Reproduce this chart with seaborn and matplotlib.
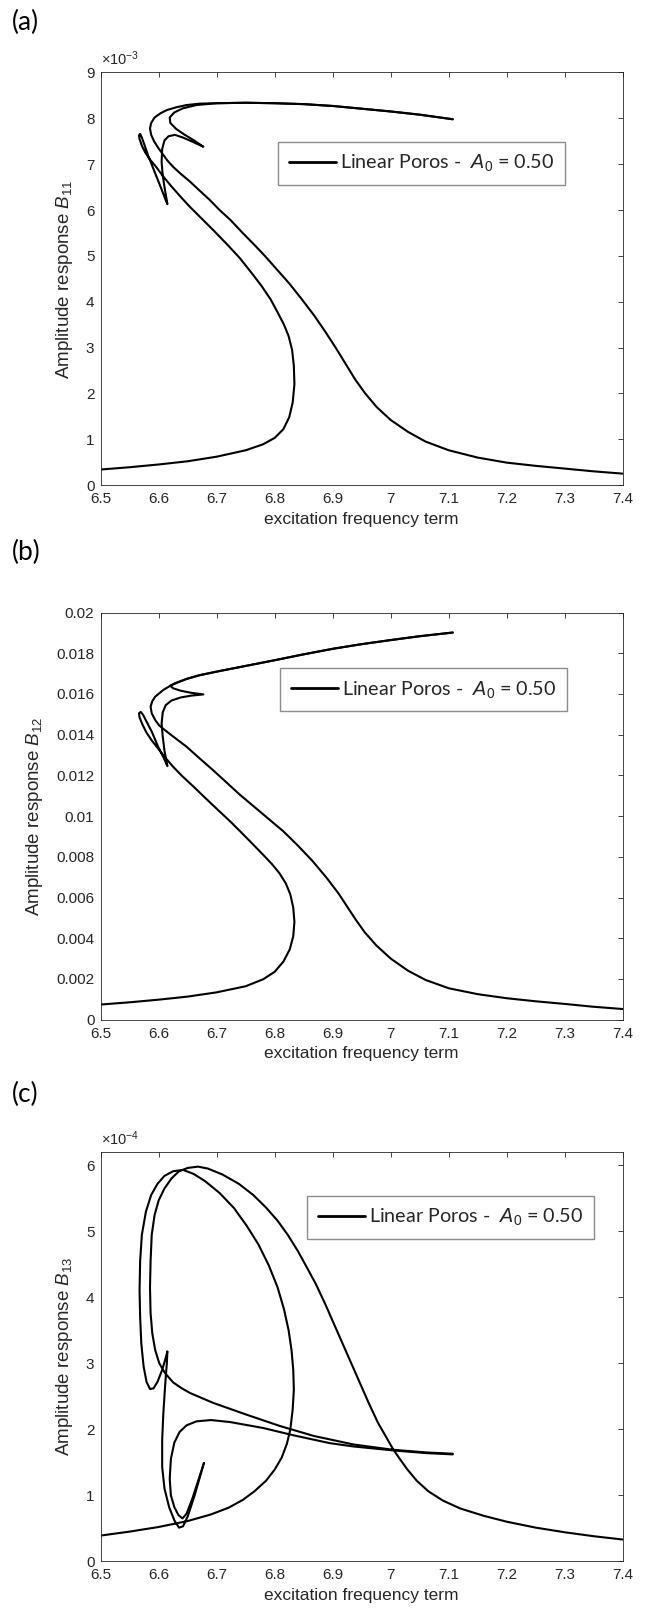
import numpy as np
import pandas as pd
import matplotlib
matplotlib.use("Agg")
import matplotlib.pyplot as plt
import seaborn as sns
from matplotlib.lines import Line2D

# ---------------- data ----------------
X_TICKS = [6.5, 6.6, 6.7, 6.8, 6.9, 7.0, 7.1, 7.2, 7.3, 7.4]
X_TICKLABELS = ["6.5", "6.6", "6.7", "6.8", "6.9", "7", "7.1", "7.2", "7.3", "7.4"]
LEGEND_LABEL = "Linear Poros -  $A_0$ = 0.50"

# panel (a): values in units of 1e-3
A1_X = [6.50, 6.55, 6.60, 6.65, 6.70, 6.75, 6.78, 6.80, 6.815, 6.825, 6.831, 6.834, 6.833, 6.830,
        6.824, 6.816, 6.805, 6.793, 6.777, 6.760, 6.740, 6.718, 6.695, 6.672, 6.653, 6.637, 6.621,
        6.608, 6.595, 6.585, 6.577, 6.571, 6.567, 6.566, 6.568, 6.571, 6.576, 6.582, 6.594, 6.605,
        6.612, 6.615, 6.613, 6.610, 6.607, 6.605, 6.606, 6.610, 6.617, 6.628, 6.642, 6.660, 6.677,
        6.662, 6.645, 6.630, 6.620, 6.619, 6.627, 6.642, 6.665, 6.70, 6.75, 6.80, 6.85, 6.90, 6.95,
        7.00, 7.05, 7.107]
A1_Y = [0.34, 0.39, 0.45, 0.52, 0.62, 0.76, 0.89, 1.03, 1.22, 1.48, 1.80, 2.20, 2.60, 2.95,
        3.25, 3.50, 3.77, 4.05, 4.35, 4.63, 4.95, 5.25, 5.55, 5.84, 6.08, 6.30, 6.53,
        6.73, 6.95, 7.10, 7.25, 7.40, 7.55, 7.63, 7.66, 7.58, 7.40, 7.18, 6.80, 6.45,
        6.22, 6.13, 6.28, 6.50, 6.75, 7.05, 7.33, 7.52, 7.61, 7.64, 7.58, 7.48, 7.38,
        7.51, 7.64, 7.77, 7.90, 8.02, 8.13, 8.22, 8.29, 8.33, 8.34, 8.33, 8.31, 8.27, 8.21,
        8.15, 8.08, 7.98]
A2_X = [7.40, 7.35, 7.30, 7.25, 7.20, 7.15, 7.10, 7.06, 7.03, 7.00, 6.976, 6.956, 6.939, 6.922,
        6.905, 6.887, 6.868, 6.847, 6.825, 6.804, 6.783, 6.765, 6.744, 6.724, 6.705, 6.688, 6.670,
        6.654, 6.638, 6.625, 6.615, 6.607, 6.599, 6.592, 6.587, 6.585, 6.587, 6.593, 6.603, 6.614,
        6.63, 6.648, 6.67, 6.70, 6.75, 6.80, 6.85, 6.90, 6.95, 7.00, 7.05, 7.107]
A2_Y = [0.25, 0.30, 0.36, 0.42, 0.49, 0.60, 0.76, 0.95, 1.16, 1.42, 1.70, 2.00, 2.30, 2.65,
        3.00, 3.35, 3.70, 4.05, 4.40, 4.70, 5.00, 5.24, 5.51, 5.78, 6.00, 6.22, 6.43,
        6.62, 6.79, 6.94, 7.08, 7.22, 7.36, 7.50, 7.64, 7.78, 7.90, 8.02, 8.11, 8.18,
        8.24, 8.29, 8.32, 8.33, 8.34, 8.33, 8.31, 8.27, 8.21, 8.15, 8.08, 7.98]

# panel (b): values in units of 1e-3
B1_X = [6.50, 6.55, 6.60, 6.65, 6.70, 6.75, 6.78, 6.80, 6.815, 6.826, 6.832, 6.834, 6.832, 6.827,
        6.819, 6.808, 6.795, 6.780, 6.763, 6.744, 6.724, 6.703, 6.680, 6.660, 6.640, 6.625, 6.612,
        6.600, 6.588, 6.579, 6.572, 6.567, 6.566, 6.569, 6.573, 6.578, 6.588, 6.599, 6.609, 6.613,
        6.615, 6.613, 6.610, 6.607, 6.605, 6.607, 6.612, 6.622, 6.638, 6.656, 6.677, 6.656, 6.638,
        6.625, 6.620, 6.628, 6.648, 6.67, 6.70, 6.75, 6.80, 6.85, 6.90, 6.95, 7.00, 7.05, 7.107]
B1_Y = [0.74, 0.85, 0.98, 1.13, 1.34, 1.64, 1.98, 2.35, 2.85, 3.45, 4.10, 4.80, 5.50, 6.15,
        6.70, 7.20, 7.65, 8.10, 8.60, 9.15, 9.72, 10.28, 10.90, 11.45, 11.98, 12.42, 12.85,
        13.28, 13.72, 14.10, 14.50, 14.85, 15.05, 15.12, 14.98, 14.70, 14.15, 13.41, 12.84, 12.58,
        12.46, 12.75, 13.20, 13.90, 14.55, 15.10, 15.45, 15.68, 15.83, 15.92, 15.98, 16.06, 16.16,
        16.28, 16.40, 16.53, 16.74, 16.92, 17.10, 17.38, 17.66, 17.95, 18.22, 18.45, 18.65, 18.84,
        19.02]
B2_X = [7.40, 7.35, 7.30, 7.25, 7.20, 7.15, 7.10, 7.06, 7.03, 7.00, 6.975, 6.955, 6.94, 6.925,
        6.91, 6.89, 6.865, 6.84, 6.815, 6.79, 6.765, 6.74, 6.717, 6.694, 6.670, 6.648, 6.630,
        6.614, 6.601, 6.594, 6.588, 6.586, 6.589, 6.594, 6.608, 6.622, 6.648, 6.67, 6.70, 6.75,
        6.80, 6.85, 6.90, 6.95, 7.00, 7.05, 7.107]
B2_Y = [0.52, 0.63, 0.77, 0.90, 1.05, 1.25, 1.54, 1.95, 2.40, 3.00, 3.65, 4.30, 4.90, 5.55,
        6.20, 6.95, 7.80, 8.55, 9.25, 9.85, 10.45, 11.05, 11.65, 12.25, 12.85, 13.41, 13.80,
        14.15, 14.45, 14.72, 15.05, 15.38, 15.65, 15.87, 16.20, 16.44, 16.74, 16.92, 17.10, 17.38,
        17.66, 17.95, 18.22, 18.45, 18.65, 18.84, 19.02]

# panel (c): values in units of 1e-4
C1_X = [6.50, 6.55, 6.60, 6.65, 6.69, 6.72, 6.745, 6.765, 6.785, 6.800, 6.812, 6.821, 6.827,
        6.831, 6.833, 6.832, 6.829, 6.824, 6.816, 6.805, 6.790, 6.772, 6.752, 6.730, 6.705, 6.680,
        6.660, 6.642, 6.625, 6.610, 6.598, 6.587, 6.578, 6.571, 6.568, 6.567, 6.568, 6.570, 6.574,
        6.579, 6.585, 6.591, 6.598, 6.606, 6.612, 6.615, 6.614, 6.611, 6.608, 6.606, 6.606, 6.610,
        6.618, 6.627, 6.635, 6.642, 6.650, 6.662, 6.678]
C1_Y = [0.39, 0.45, 0.52, 0.61, 0.71, 0.81, 0.93, 1.06, 1.22, 1.39, 1.57, 1.78, 2.00,
        2.30, 2.60, 2.90, 3.20, 3.50, 3.82, 4.15, 4.48, 4.80, 5.08, 5.35, 5.58, 5.76,
        5.87, 5.93, 5.91, 5.84, 5.72, 5.55, 5.30, 4.95, 4.55, 4.10, 3.70, 3.30, 2.95,
        2.72, 2.61, 2.62, 2.72, 2.90, 3.08, 3.18, 3.00, 2.65, 2.24, 1.84, 1.43, 1.10,
        0.82, 0.62, 0.51, 0.53, 0.68, 1.00, 1.49]
C2_X = [7.40, 7.35, 7.30, 7.25, 7.20, 7.16, 7.12, 7.09, 7.065, 7.045, 7.028, 7.015, 7.004,
        6.993, 6.978, 6.962, 6.947, 6.932, 6.917, 6.902, 6.887, 6.871, 6.855, 6.840, 6.823, 6.805,
        6.785, 6.763, 6.738, 6.710, 6.685, 6.668, 6.650, 6.635, 6.622, 6.610, 6.600, 6.593, 6.588,
        6.586, 6.585, 6.586, 6.589, 6.594, 6.601, 6.611, 6.625, 6.640, 6.654, 6.694, 6.752, 6.809,
        6.867, 6.936, 7.004, 7.06, 7.107]
C2_Y = [0.33, 0.38, 0.44, 0.51, 0.60, 0.69, 0.80, 0.92, 1.06, 1.22, 1.40, 1.56, 1.70,
        1.87, 2.10, 2.40, 2.70, 3.00, 3.30, 3.60, 3.90, 4.20, 4.46, 4.70, 4.94, 5.16,
        5.36, 5.55, 5.72, 5.86, 5.95, 5.98, 5.96, 5.91, 5.80, 5.65, 5.47, 5.25, 4.95,
        4.55, 4.15, 3.76, 3.45, 3.20, 3.00, 2.85, 2.71, 2.62, 2.55, 2.40, 2.22, 2.05,
        1.90, 1.77, 1.69, 1.65, 1.63]
C3_X = [7.107, 7.06, 7.004, 6.936, 6.895, 6.832, 6.780, 6.723, 6.690, 6.665, 6.648, 6.636, 6.627,
        6.621, 6.619, 6.621, 6.627, 6.634, 6.641, 6.648, 6.658, 6.678]
C3_Y = [1.62, 1.64, 1.68, 1.74, 1.79, 1.91, 2.02, 2.11, 2.14, 2.12, 2.06, 1.96, 1.80,
        1.55, 1.25, 1.00, 0.82, 0.70, 0.65, 0.72, 0.95, 1.49]

A_YTICKS = [0, 1, 2, 3, 4, 5, 6, 7, 8, 9]
A_YTICKLABELS = ["0", "1", "2", "3", "4", "5", "6", "7", "8", "9"]
B_YTICKS = [0, 2, 4, 6, 8, 10, 12, 14, 16, 18, 20]
B_YTICKLABELS = ["0", "0.002", "0.004", "0.006", "0.008", "0.01", "0.012", "0.014",
                 "0.016", "0.018", "0.02"]
C_YTICKS = [0, 1, 2, 3, 4, 5, 6]
C_YTICKLABELS = ["0", "1", "2", "3", "4", "5", "6"]

# ---------------- style ----------------
sns.set_style("white")
plt.rcParams["font.family"] = ["Liberation Sans", "DejaVu Sans"]
plt.rcParams["mathtext.fontset"] = "custom"
plt.rcParams["mathtext.rm"] = "Liberation Sans"
plt.rcParams["mathtext.it"] = "Liberation Sans:italic"
plt.rcParams["mathtext.bf"] = "Liberation Sans:bold"

AX_COLOR = "#262626"
W, H = 646, 1616
fig = plt.figure(figsize=(W / 100, H / 100), dpi=100)


def px_axes(left, top, right, bottom):
    return fig.add_axes([left / W, 1 - bottom / H, (right - left) / W, (bottom - top) / H])


ax_a = px_axes(100.7, 72.5, 622.7, 485.1)
ax_b = px_axes(100.7, 612.6, 622.7, 1019.6)
ax_c = px_axes(100.7, 1152.1, 622.7, 1561.3)


def draw(ax, paths, ylim, yticks, yticklabels, ylabel, leg_anchor, offset=None):
    for xs, ys in paths:
        df = pd.DataFrame({"x": xs, "y": ys})
        sns.lineplot(data=df, x="x", y="y", sort=False, estimator=None, color="black",
                     linewidth=1.5, ax=ax, solid_joinstyle="round", solid_capstyle="round")
    ax.set_xlim(6.5, 7.4)
    ax.set_ylim(*ylim)
    ax.set_xticks(X_TICKS)
    ax.set_xticklabels(X_TICKLABELS)
    ax.set_yticks(yticks)
    ax.set_yticklabels(yticklabels)
    ax.tick_params(direction="in", length=3.6, width=0.6, top=True, right=True,
                   labelsize=11, colors=AX_COLOR, pad=4.5)
    ax.tick_params(axis="x", pad=5)
    for s in ax.spines.values():
        s.set_color(AX_COLOR)
        s.set_linewidth(0.6)
        s.set_visible(True)
    ax.set_xlabel("excitation frequency term", fontsize=12.5, color=AX_COLOR, labelpad=4)
    ax.set_ylabel(ylabel, fontsize=13.5, color=AX_COLOR, labelpad=8)
    ax.grid(False)
    if ax.get_legend() is not None:
        ax.get_legend().remove()
    handle = Line2D([], [], color="black", linewidth=2)
    leg = ax.legend(handles=[handle], labels=[LEGEND_LABEL], loc="upper left",
                    bbox_to_anchor=leg_anchor, borderaxespad=0, frameon=True, fancybox=False,
                    edgecolor="#8c8c8c", framealpha=1, prop={"family": ["Lato"], "size": 14.2},
                    handlelength=2.4, handletextpad=0.2, borderpad=0.55)
    leg.get_frame().set_linewidth(1.0)
    if offset:
        ax.text(0.0, 1.01, offset, transform=ax.transAxes, ha="left", va="bottom",
                fontsize=10.5, color=AX_COLOR)


draw(ax_a, [(A1_X, A1_Y), (A2_X, A2_Y)], (0, 9), A_YTICKS, A_YTICKLABELS,
     "Amplitude response $B_{11}$", (0.340, 0.832), r"$\times$10$^{-3}$")
draw(ax_b, [(B1_X, B1_Y), (B2_X, B2_Y)], (0, 20), B_YTICKS, B_YTICKLABELS,
     "Amplitude response $B_{12}$", (0.343, 0.863))
draw(ax_c, [(C1_X, C1_Y), (C2_X, C2_Y), (C3_X, C3_Y)], (0, 6.2), C_YTICKS, C_YTICKLABELS,
     "Amplitude response $B_{13}$", (0.395, 0.893), r"$\times$10$^{-4}$")

for label, ycen in [("(a)", 22), ("(b)", 552), ("(c)", 1094)]:
    fig.text(12 / W, 1 - ycen / H, label, fontsize=19, family=["Lato"], ha="left",
             va="center", color="black")

fig.savefig("out.png", dpi=100)
